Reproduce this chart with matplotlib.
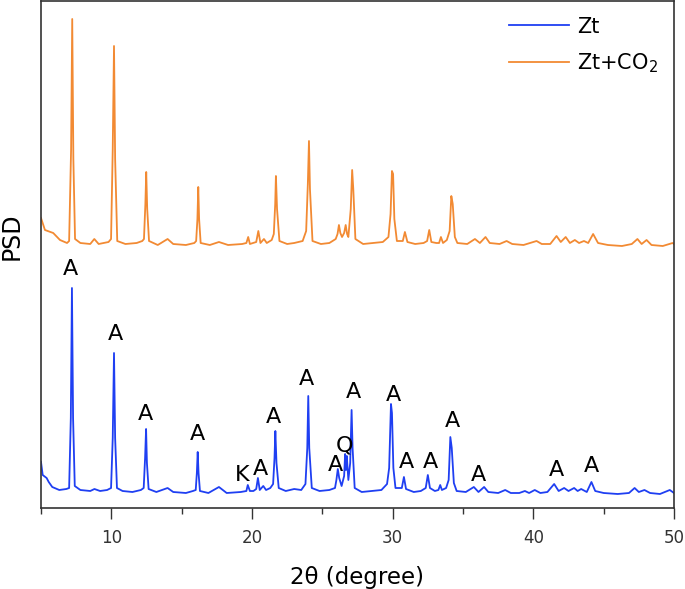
import matplotlib
matplotlib.use("Agg")
import matplotlib.pyplot as plt
from matplotlib.ticker import MultipleLocator

# ---------------- data ----------------
# Zt pattern: 2theta (degree) and PSD (a.u.)
two_theta_zt = [5.00, 5.12, 5.40, 5.55, 5.80, 6.30, 6.80,
                7.00, 7.12, 7.20, 7.28, 7.40,
                7.80, 8.50, 8.80, 9.20, 9.70,
                9.98, 10.10, 10.19, 10.27, 10.40,
                10.80, 11.50, 12.10,
                12.30, 12.40, 12.47, 12.53, 12.65,
                13.20, 14.00, 14.40, 15.30, 15.80,
                16.00, 16.08, 16.14, 16.20, 16.30,
                16.90, 17.65, 18.20, 19.20,
                19.60, 19.70, 19.85,
                20.10, 20.30, 20.42, 20.55, 20.80, 21.00, 21.30,
                21.50, 21.60, 21.66, 21.74, 21.90,
                22.40, 23.00, 23.50,
                23.80, 23.93, 24.00, 24.07, 24.25,
                24.80, 25.50, 25.90,
                26.00, 26.10, 26.20, 26.37,
                26.55, 26.62, 26.68, 26.74, 26.85,
                26.98, 27.08, 27.15, 27.30,
                27.80, 28.50, 29.20, 29.60,
                29.75, 29.88, 29.95, 30.05, 30.20,
                30.65, 30.80, 30.95,
                31.50, 32.00,
                32.35, 32.50, 32.65, 33.00,
                33.25, 33.38, 33.50, 33.80,
                33.98, 34.10, 34.20, 34.35, 34.55,
                35.20, 35.77, 36.10, 36.50, 36.80, 37.50, 38.00, 38.40,
                39.00, 39.40, 39.70, 40.10, 40.50, 41.00, 41.48, 41.80,
                42.19, 42.50, 42.90, 43.15, 43.40, 43.80, 44.13, 44.40,
                45.00, 46.00, 46.80, 47.20, 47.50, 47.90, 48.30, 49.00,
                49.70, 50.00]
psd_zt = [46, 33, 30, 26, 21, 18, 19,
          20, 90, 220, 90, 22,
          18, 17, 19, 17, 18,
          20, 70, 155, 70, 20,
          17, 16, 18,
          20, 50, 79, 45, 19,
          16, 20, 16, 15, 17,
          18, 35, 56, 35, 17,
          15, 21, 15, 16,
          17, 23, 17,
          17, 19, 30, 18, 22, 18, 20,
          24, 50, 77, 45, 20,
          17, 19, 18,
          24, 60, 112, 60, 20,
          17, 18, 20,
          28, 39, 30, 22,
          32, 54, 38, 52, 28,
          45, 98, 60, 20,
          16, 17, 18, 24,
          40, 104, 95, 40, 20,
          20, 31, 19,
          16, 17,
          20, 33, 20, 17,
          18, 23, 18, 20,
          28, 71, 60, 25, 17,
          16, 21, 16, 21, 16, 15, 18, 15,
          15, 17, 15, 18, 15, 16, 24, 17,
          20, 17, 20, 17, 19, 16, 26, 17,
          15, 14, 15, 20, 16, 18, 15, 14,
          18, 15]

# Zt+CO2 pattern: 2theta (degree) and PSD (a.u.), plotted with a vertical offset
two_theta_co2 = [5.00, 5.28, 5.87, 6.35, 6.85,
                 7.00, 7.14, 7.22, 7.30, 7.42,
                 7.80, 8.50, 8.79, 9.10, 9.80,
                 9.98, 10.10, 10.19, 10.27, 10.42,
                 11.00, 11.80, 12.20,
                 12.32, 12.42, 12.48, 12.55, 12.68,
                 13.30, 14.00, 14.40, 15.30, 15.90,
                 16.03, 16.12, 16.18, 16.24, 16.35,
                 17.00, 17.65, 18.30, 19.30,
                 19.60, 19.73, 19.85,
                 20.30, 20.45, 20.60, 20.85, 21.05, 21.40,
                 21.55, 21.65, 21.70, 21.78, 21.95,
                 22.50, 23.00, 23.60,
                 23.85, 23.97, 24.05, 24.12, 24.30,
                 24.90, 25.50, 25.95,
                 26.08, 26.18, 26.28, 26.40,
                 26.55, 26.66, 26.76, 26.85,
                 27.02, 27.12, 27.20, 27.35,
                 27.90, 28.60, 29.30, 29.70,
                 29.85, 29.95, 30.03, 30.12, 30.30,
                 30.72, 30.87, 31.05,
                 31.60, 32.20,
                 32.45, 32.60, 32.75, 33.10,
                 33.30, 33.43, 33.58, 33.85,
                 34.05, 34.17, 34.27, 34.42, 34.60,
                 35.30, 35.85, 36.20, 36.60, 36.90, 37.60, 38.10, 38.50,
                 39.30, 40.23, 40.60, 41.20, 41.65, 41.95, 42.30, 42.60,
                 42.95, 43.25, 43.60, 43.90, 44.25, 44.60, 45.30, 46.30,
                 47.00, 47.40, 47.70, 48.05, 48.40, 49.20, 49.90, 50.00]
psd_co2 = [41, 29, 26, 19, 16,
           18, 110, 240, 100, 20,
           16, 15, 20, 15, 17,
           20, 110, 213, 100, 18,
           15, 16, 18,
           20, 55, 87, 50, 18,
           14, 20, 15, 14, 16,
           18, 40, 72, 40, 16,
           14, 17, 14, 15,
           16, 22, 15,
           17, 28, 16, 20, 16, 19,
           25, 55, 83, 50, 18,
           15, 16, 18,
           28, 75, 118, 70, 18,
           15, 16, 20,
           25, 34, 26, 22,
           26, 34, 25, 22,
           50, 89, 70, 20,
           15, 16, 17, 22,
           45, 88, 85, 40, 18,
           18, 27, 17,
           15, 16,
           18, 29, 17, 16,
           16, 22, 16, 19,
           28, 63, 55, 22, 16,
           15, 20, 16, 22, 16, 15, 18, 15,
           14, 18, 15, 15, 23, 17, 22, 16,
           19, 16, 18, 16, 25, 16, 14, 13,
           15, 20, 15, 19, 14, 13, 16, 15]
co2_offset = 249

series_names = ["Zt", "Zt+CO$_2$"]
series_colors = ["#1f3ff2", "#f28a33"]

# phase labels on the Zt pattern
phase_labels = ["A", "A", "A", "A", "K", "A", "A", "A", "A", "Q", "A",
                "A", "A", "A", "A", "A", "A", "A"]
label_x = [7.11, 10.26, 12.46, 16.14, 19.31, 20.62, 21.51, 23.88, 25.90, 26.56, 27.20,
           30.09, 30.99, 32.70, 34.26, 36.08, 41.65, 44.14]
label_y = [233, 168, 88, 68, 27, 33, 85, 123, 37, 57, 110,
           107, 40, 40, 81, 27, 32, 36]

x_ticks = [10, 20, 30, 40, 50]

# ---------------- figure ----------------
fig = plt.figure(figsize=(6.85, 5.89), dpi=100)
ax = fig.add_axes([41 / 685, 1 - 508 / 589, 633 / 685, 507 / 589])

ax.plot(two_theta_zt, psd_zt, color=series_colors[0], lw=1.3, label=series_names[0])
ax.plot(two_theta_co2, [v + co2_offset for v in psd_co2], color=series_colors[1],
        lw=1.3, label=series_names[1])

for t, xx, yy in zip(phase_labels, label_x, label_y):
    ax.text(xx, yy, t, ha="center", va="baseline", fontsize=16, color="black")

ax.set_xlim(5, 50)
ax.set_ylim(0, 507)
ax.set_xticks(x_ticks)
ax.xaxis.set_minor_locator(MultipleLocator(5))
ax.set_yticks([])
ax.tick_params(axis="x", which="major", direction="out", length=8, width=1.0,
               labelsize=12, pad=7, colors="#333333")
ax.tick_params(axis="x", which="minor", direction="out", length=4, width=1.0,
               colors="#333333")
for s in ax.spines.values():
    s.set_linewidth(1.2)
    s.set_color("#333333")

ax.set_xlabel("2θ (degree)", fontsize=16.5, labelpad=14)
ax.set_ylabel("PSD", fontsize=17)
ax.yaxis.set_label_coords(-0.027, 0.536)

ax.legend(loc="upper right", frameon=False, fontsize=15, handlelength=2.9,
          handletextpad=0.4, labelspacing=0.7, borderaxespad=0.45,
          borderpad=0.3)

fig.savefig("out.png", dpi=100)
